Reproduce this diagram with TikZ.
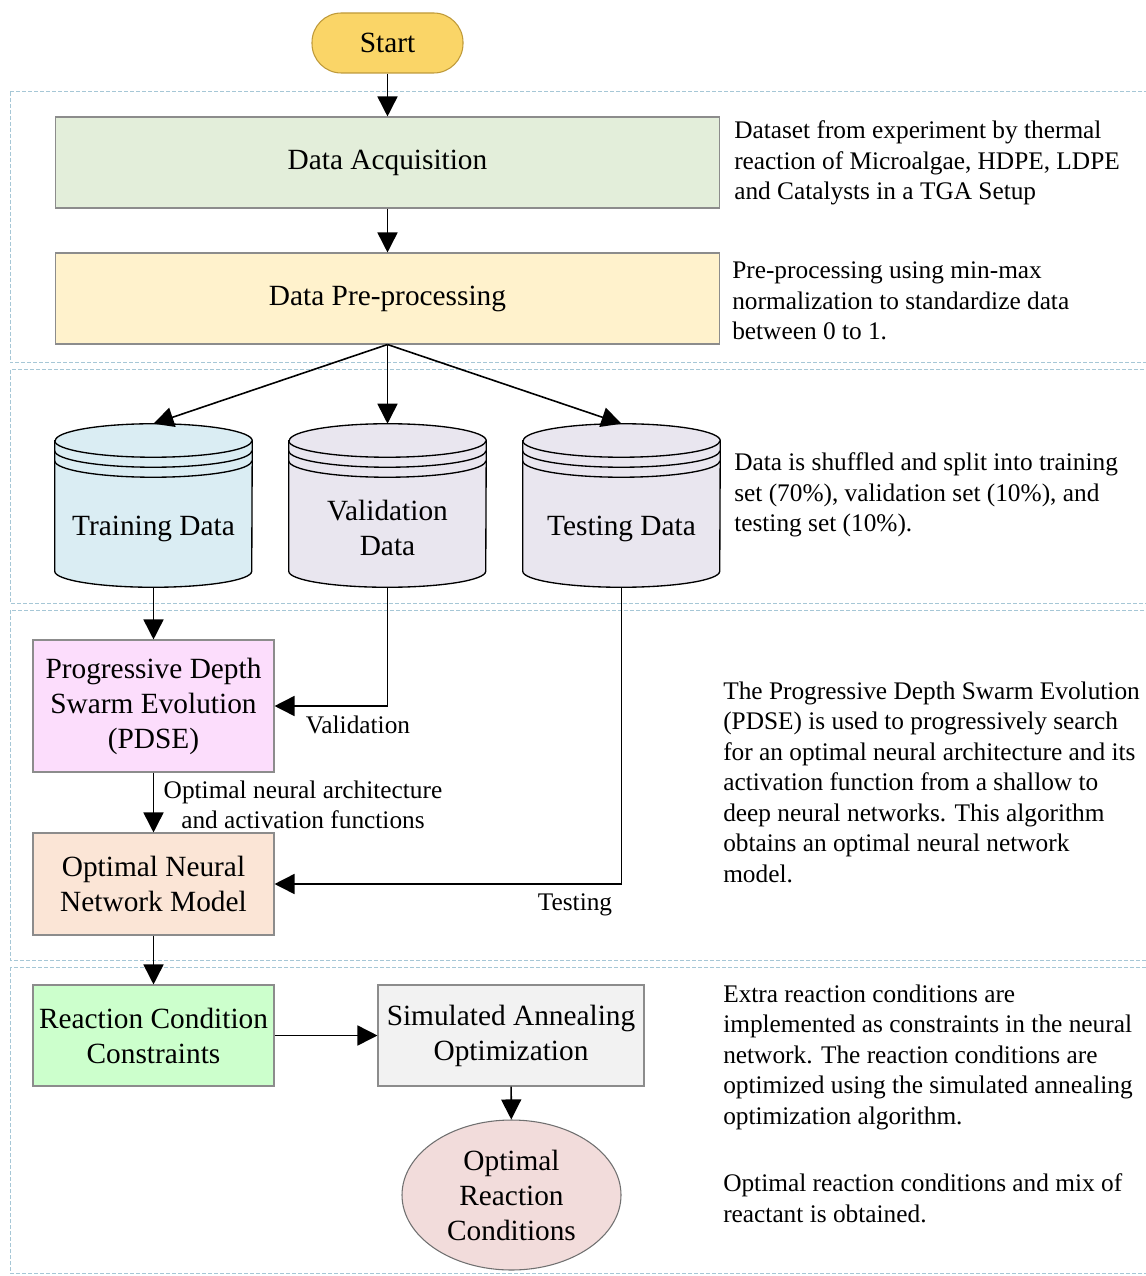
\documentclass[tikz,border=0pt]{standalone}
\usepackage{fontspec}
\setmainfont{Liberation Serif}
\usepackage{xcolor}
\usetikzlibrary{arrows.meta,shapes.geometric,calc}

\definecolor{startfill}{HTML}{FAD567}
\definecolor{startedge}{HTML}{BF9A3A}
\definecolor{boxedge}{HTML}{8C8C8C}
\definecolor{acqfill}{HTML}{E3EEDA}
\definecolor{prefill}{HTML}{FFF2CC}
\definecolor{trainfill}{HTML}{DAEDF3}
\definecolor{drumfill}{HTML}{E9E6EF}
\definecolor{pdsefill}{HTML}{FCDDFC}
\definecolor{onnfill}{HTML}{FBE5D6}
\definecolor{rccfill}{HTML}{CCFFCC}
\definecolor{saofill}{HTML}{F2F2F2}
\definecolor{optfill}{HTML}{F2DCDB}
\definecolor{sectionline}{HTML}{A6C7D6}

\tikzset{
  flowbox/.style={draw=boxedge, line width=0.8pt, inner sep=2pt, align=center, font=\fontsize{22}{26.25}\selectfont},
  flowarrow/.style={-{Triangle[length=15pt,width=15pt]}, line width=1.2pt},
  sidetext/.style={anchor=west, align=left, inner sep=0pt, font=\fontsize{19}{22.9}\selectfont},
  edgelabel/.style={inner sep=0pt, align=center, font=\fontsize{19}{22.9}\selectfont},
  drumtext/.style={inner sep=0pt, align=center, font=\fontsize{22}{26.25}\selectfont},
  section/.style={draw=sectionline, line width=0.75pt, dash pattern=on 3pt off 1.5pt},
  drum/.style={minimum width=147.75pt, minimum height=122.25pt, inner sep=0pt},
  drumline/.style={draw=black, line width=1pt},
}

% outline of a data store round a named node: #1 name, #2 fill
\newcommand{\drawdrum}[2]{%
  \draw[drumline, fill=#2] ($(#1.north west)+(0,17)$) -- ($(#1.south west)+(0,-16)$)
    arc[start angle=180, end angle=0, x radius=98.5, y radius=16]
    -- ($(#1.north east)+(0,17)$)
    arc[start angle=0, end angle=-180, x radius=98.5, y radius=17] -- cycle;
  \foreach \ringshift in {17,27,37}
    \draw[drumline] ($(#1.north west)+(0,\ringshift)$) arc[start angle=180, end angle=0, x radius=98.5, y radius=16.5];
}

\begin{document}
\begin{tikzpicture}[x=0.75pt,y=0.75pt,yscale=-1,xscale=1]
    \useasboundingbox (0,0) rectangle (1145,1276);

    %Sections
    \draw[section] (10,92) rectangle (1160,363);
    \draw[section] (10,370) rectangle (1160,603);
    \draw[section] (10,610) rectangle (1160,960);
    \draw[section] (10,967) rectangle (1160,1273);

    %Shape: Start
    \node (start) [flowbox, draw=startedge, fill=startfill, rounded corners=22pt, minimum width=113.25pt, minimum height=45pt] at (387.5,43) {Start};

    %Shape: Boxes
    \node (acq) [flowbox, fill=acqfill, minimum width=498pt, minimum height=68.25pt] at (387.5,162.5) {Data Acquisition};
    \node (pre) [flowbox, fill=prefill, minimum width=498pt, minimum height=68.25pt] at (387.5,298.5) {Data Pre-processing};

    %Shape: Data stores
    \node (train) [drum] at (153.5,505.5) {};
    \drawdrum{train}{trainfill}
    \node (trainlbl) [drumtext] at (153.5,529) {Training Data};
    \node (val) [drum] at (387.5,505.5) {};
    \drawdrum{val}{drumfill}
    \node (vallbl) [drumtext] at (387.5,528) {Validation\\Data};
    \node (test) [drum] at (621.5,505.5) {};
    \drawdrum{test}{drumfill}
    \node (testlbl) [drumtext] at (621.5,529) {Testing Data};

    \node (pdse) [flowbox, fill=pdsefill, minimum width=180.75pt, minimum height=99pt] at (153.5,706) {Progressive Depth\\Swarm Evolution\\(PDSE)};
    \node (onn) [flowbox, fill=onnfill, minimum width=180.75pt, minimum height=76.5pt] at (153.5,884) {Optimal Neural\\Network Model};
    \node (rcc) [flowbox, fill=rccfill, minimum width=180.75pt, minimum height=75.75pt] at (153.5,1035.5) {Reaction Condition\\Constraints};
    \node (sao) [flowbox, fill=saofill, minimum width=199.5pt, minimum height=75.75pt] at (511,1035.5) {Simulated Annealing\\Optimization};
    \node (opt) [flowbox, ellipse, draw=boxedge!80!black, fill=optfill, inner sep=0pt, minimum width=164.25pt, minimum height=112.5pt] at (511.5,1195) {Optimal\\Reaction\\Conditions};

    %Straight Lines
    \draw[flowarrow] (start) -- (acq);
    \draw[flowarrow] (acq) -- (pre);
    \draw[flowarrow] (pre.south) -- (train.north);
    \draw[flowarrow] (pre.south) -- (val.north);
    \draw[flowarrow] (pre.south) -- (test.north);
    \draw[flowarrow] (train.south) -- (pdse.north);
    \draw[flowarrow] (val.south) |- (pdse.east);
    \draw[flowarrow] (pdse) -- (onn);
    \draw[flowarrow] (test.south) |- (onn.east);
    \draw[flowarrow] (onn) -- (rcc);
    \draw[flowarrow] (rcc) -- (sao);
    \draw[flowarrow] (sao) -- (opt);

    % Text Node
    \node (validation) [edgelabel] at (358,725) {Validation};
    \node (testing) [edgelabel] at (575,905) {Testing};
    \node (archlbl) [edgelabel] at (303,805) {Optimal neural architecture\\and activation functions};

    % Text Node
    \node (acqnote) [sidetext] at (734,163) {Dataset from experiment by thermal\\reaction of Microalgae, HDPE, LDPE\\and Catalysts in a TGA Setup};
    \node (prenote) [sidetext] at (732,301) {Pre-processing using min-max\\normalization to standardize data\\between 0 to 1.};
    \node (splitnote) [sidetext] at (734,495) {Data is shuffled and split into training\\set (70\%), validation set (10\%), and\\testing set (10\%).};
    \node (pdsenote) [sidetext] at (723,782) {The Progressive Depth Swarm Evolution\\(PDSE) is used to progressively search\\for an optimal neural architecture and its\\activation function from a shallow to\\deep neural networks. This algorithm\\obtains an optimal neural network\\model.};
    \node (saonote) [sidetext] at (723,1057) {Extra reaction conditions are\\implemented as constraints in the neural\\network. The reaction conditions are\\optimized using the simulated annealing\\optimization algorithm.};
    \node (optnote) [sidetext] at (723,1198) {Optimal reaction conditions and mix of\\reactant is obtained.};

\end{tikzpicture}
\end{document}
